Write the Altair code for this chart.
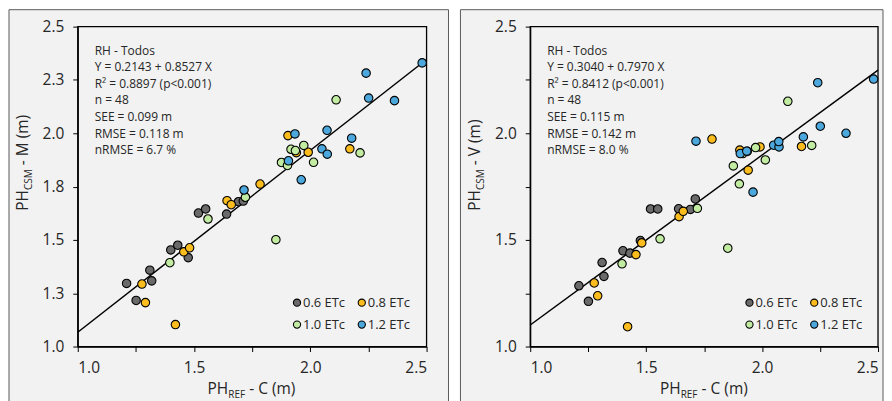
import altair as alt
import pandas as pd

# ---------------- data ----------------
groups = ["0.6 ETc", "0.8 ETc", "1.0 ETc", "1.2 ETc"]
colors = ["#6a6a6a", "#fbbc1e", "#c2eca2", "#4ca8dc"]

# PH_REF - C (shared x), PH_CSM - M (left), PH_CSM - V (right)
x_06 = [1.210, 1.251, 1.310, 1.318, 1.400, 1.430, 1.475, 1.519, 1.550, 1.640, 1.691, 1.712]
m_06 = [1.296, 1.216, 1.358, 1.308, 1.453, 1.475, 1.417, 1.626, 1.645, 1.621, 1.679, 1.682]
v_06 = [1.285, 1.212, 1.394, 1.329, 1.449, 1.438, 1.497, 1.645, 1.645, 1.646, 1.643, 1.692]

x_08 = [1.276, 1.291, 1.420, 1.456, 1.481, 1.642, 1.660, 1.784, 1.904, 1.940, 1.991, 2.170]
m_08 = [1.293, 1.206, 1.103, 1.444, 1.463, 1.684, 1.665, 1.762, 1.989, 1.909, 1.911, 1.927]
v_08 = [1.298, 1.238, 1.093, 1.431, 1.486, 1.609, 1.634, 1.973, 1.921, 1.827, 1.936, 1.938]

x_10 = [1.396, 1.560, 1.721, 1.852, 1.876, 1.902, 1.917, 1.936, 1.972, 2.014, 2.111, 2.214]
m_10 = [1.393, 1.598, 1.700, 1.501, 1.863, 1.849, 1.925, 1.919, 1.943, 1.864, 2.157, 1.908]
v_10 = [1.388, 1.505, 1.648, 1.461, 1.847, 1.763, 1.905, 1.915, 1.933, 1.875, 2.150, 1.943]

x_12 = [1.715, 1.906, 1.934, 1.961, 2.050, 2.073, 2.072, 2.178, 2.240, 2.251, 2.362, 2.481]
m_12 = [1.734, 1.871, 1.997, 1.782, 1.927, 1.902, 2.014, 1.977, 2.282, 2.165, 2.153, 2.330]
v_12 = [1.963, 1.905, 1.916, 1.724, 1.944, 1.936, 1.961, 1.983, 2.237, 2.033, 2.000, 2.254]

ticks = [1.0, 1.25, 1.5, 1.75, 2.0, 2.25, 2.5]
line_x = [1.0, 2.5]
fit_m = [0.2143, 0.8527]
fit_v = [0.3040, 0.7970]

stats_m = ["RH - Todos", "Y = 0.2143 + 0.8527 X", "R\u00b2 = 0.8897 (p<0.001)", "n = 48",
           "SEE = 0.099 m", "RMSE = 0.118 m", "nRMSE = 6.7 %"]
stats_v = ["RH - Todos", "Y = 0.3040 + 0.7970 X", "R\u00b2 = 0.8412 (p<0.001)", "n = 48",
           "SEE = 0.115 m", "RMSE = 0.142 m", "nRMSE = 8.0 %"]

# ---------------- tables ----------------
rows = []
for g, xs, ms, vs in zip(groups, [x_06, x_08, x_10, x_12], [m_06, m_08, m_10, m_12],
                         [v_06, v_08, v_10, v_12]):
    for a, b, c in zip(xs, ms, vs):
        rows.append({"x": a, "M": b, "V": c, "grp": g})
df = pd.DataFrame(rows)

FONT = "Open Sans"
TXT = "#262626"
H = 321

# legend layout (pixels inside plot)
leg = pd.DataFrame({
    "grp": groups,
    "cx": [220, 285, 220, 285],
    "cy": [277, 277, 299, 299],
})
leg["tx"] = leg["cx"] + 6

one = pd.DataFrame({"a": [0]})
half_expr = "(round(datum.value*4) % 2 == 0) ? format(datum.value, '.1f') : ''"


def axis(all_labels):
    kw = dict(values=ticks, title=None, grid=False, zindex=1, domainColor="black",
              domainWidth=1.2, tickColor="black", tickSize=5, tickWidth=1,
              labelFont=FONT, labelFontSize=15.5, labelColor=TXT, labelPadding=9)
    if all_labels:
        kw["format"] = ".1f"
    else:
        kw["labelExpr"] = half_expr
    return alt.Axis(**kw)


def panel(ycol, fit, stats, ylet, W, bx1, bx2, y_all):
    xs = alt.Scale(domain=[1.0, 2.5], nice=False, zero=False)
    ys = alt.Scale(domain=[1.0, 2.5], nice=False, zero=False)
    xax = axis(False)
    yax = axis(y_all)

    bg = alt.Chart(one).mark_rect(fill="#f2f2f2", stroke="#5a5a5a", strokeWidth=1).encode(
        x=alt.value(bx1), x2=alt.value(bx2), y=alt.value(-17), y2=alt.value(388))
    frame = alt.Chart(one).mark_rect(fill="transparent", stroke="black", strokeWidth=1.3).encode(
        x=alt.value(0), x2=alt.value(W), y=alt.value(0), y2=alt.value(H))

    ldf = pd.DataFrame({"x": line_x, "y": [fit[0] + fit[1] * v for v in line_x]})
    line = alt.Chart(ldf).mark_line(color="black", strokeWidth=1.5).encode(
        x=alt.X("x:Q", scale=xs, axis=xax), y=alt.Y("y:Q", scale=ys, axis=yax))

    pts = alt.Chart(df).mark_circle(size=72, opacity=1, stroke="black", strokeWidth=1.1).encode(
        x=alt.X("x:Q", scale=xs, axis=xax),
        y=alt.Y(f"{ycol}:Q", scale=ys, axis=yax),
        fill=alt.Fill("grp:N", scale=alt.Scale(domain=groups, range=colors), legend=None),
    )

    note = alt.Chart(one).mark_text(align="left", baseline="alphabetic", font=FONT, fontSize=12,
                                    color=TXT, lineHeight=16.7).encode(
        x=alt.value(17), y=alt.value(28), text=alt.value(stats))

    lc = alt.Chart(leg).mark_circle(size=52, opacity=1, stroke="black", strokeWidth=1.1).encode(
        x=alt.X("cx:Q", scale=None), y=alt.Y("cy:Q", scale=None),
        fill=alt.Fill("grp:N", scale=alt.Scale(domain=groups, range=colors), legend=None))
    lt = alt.Chart(leg).mark_text(align="left", baseline="middle", font=FONT, fontSize=13,
                                  color=TXT).encode(
        x=alt.X("tx:Q", scale=None), y=alt.Y("cy:Q", scale=None), text="grp:N")

    # x axis title: PH_REF - C (m)
    tkw = dict(font=FONT, color=TXT, baseline="alphabetic")
    xt1 = alt.Chart(one).mark_text(align="right", fontSize=15.5, **tkw).encode(
        x=alt.value(151), y=alt.value(369), text=alt.value("PH"))
    xt2 = alt.Chart(one).mark_text(align="left", fontSize=10, dy=4, **tkw).encode(
        x=alt.value(151), y=alt.value(369), text=alt.value("REF"))
    xt3 = alt.Chart(one).mark_text(align="left", fontSize=15.5, **tkw).encode(
        x=alt.value(172), y=alt.value(369), text=alt.value("- C (m)"))

    # y axis title: PH_CSM - M (m), rotated
    yt1 = alt.Chart(one).mark_text(align="right", angle=270, fontSize=15.5, **tkw).encode(
        x=alt.value(-50), y=alt.value(164), text=alt.value("PH"))
    yt2 = alt.Chart(one).mark_text(align="left", angle=270, fontSize=10, dy=4, **tkw).encode(
        x=alt.value(-50), y=alt.value(164), text=alt.value("CSM"))
    yt3 = alt.Chart(one).mark_text(align="left", angle=270, fontSize=15.5, **tkw).encode(
        x=alt.value(-50), y=alt.value(139), text=alt.value(f"- {ylet} (m)"))

    return alt.layer(bg, frame, line, pts, note, lc, lt, xt1, xt2, xt3, yt1, yt2, yt3).properties(
        width=W, height=H)


left = panel("M", fit_m, stats_m, "M", 350, -69, 372, True)
right = panel("V", fit_v, stats_v, "V", 349, -70, 354, False)

chart = alt.hconcat(left, right, spacing=10).properties(
    padding={"left": 0, "top": 0, "right": 0, "bottom": 0}
).configure_view(stroke=None)

chart.save("out.html", embed_options={"renderer": "svg", "actions": False})
